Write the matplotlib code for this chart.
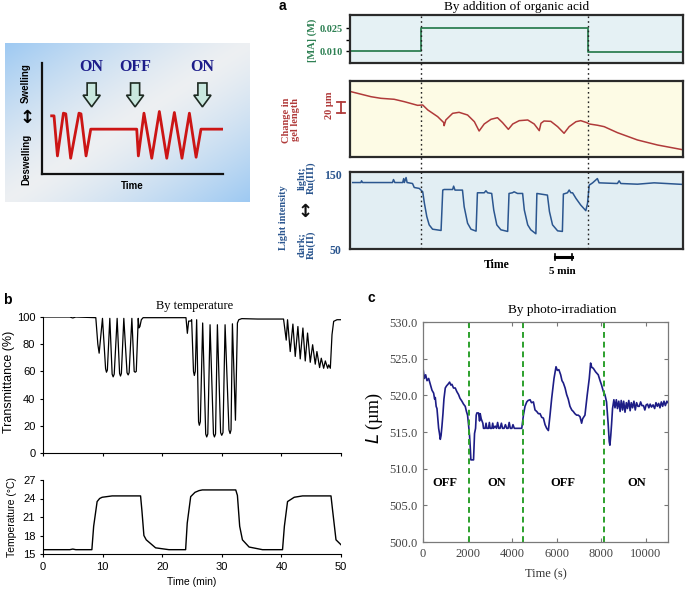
import numpy as np
import matplotlib
matplotlib.use("Agg")
import matplotlib.pyplot as plt
from matplotlib.patches import FancyArrow
import matplotlib.transforms as mtransforms

W, H = 685, 591
SERIF = "Liberation Serif"
SANS = "Liberation Sans"

# ---------------- data ----------------
# schematic (arbitrary units)
schem_t = [5.5, 6.8, 8.7, 12.0, 13.3, 16.0, 20.6, 21.7, 24.5, 27.1, 52.5, 53.4, 56.5,
           60.8, 65.0, 69.1, 73.3, 77.5, 81.6, 85.3, 88.0, 100]
schem_y = [52.4, 52.4, 16.3, 54.8, 54.2, 14.2, 54.8, 54.2, 16.3, 40.4, 40.4, 16.3, 54.8,
           14.2, 56.3, 14.2, 55.4, 14.2, 54.8, 15.1, 40.4, 40.4]
schem_switch_x = [27.6, 51.6, 88.8]
schem_switch_labels = ["ON", "OFF", "ON"]

# panel a (time in min)
acid_switch_t = [20.9, 70.1]
ma_t = [0, 20.9, 20.9, 70.1, 70.1, 98]
ma_c = [0.010, 0.010, 0.025, 0.025, 0.0095, 0.0095]

gel_t = [0.3, 6.2, 9.1, 13.0, 16.0, 19.9, 21.4, 22.9, 25.8, 27.6, 27.7, 28.2, 30.2, 32.1,
         34.6, 36.6, 38.0, 39.5, 41.5, 43.4, 44.9, 46.6, 47.9, 49.8, 52.3, 54.2, 55.7,
         56.2, 57.1, 59.1, 61.1, 63.0, 64.5, 66.5, 67.9, 69.7, 70.4, 72.9, 74.8, 78.7,
         84.6, 90.5, 98.3]
gel_um = [114.3, 105.5, 102.7, 101.0, 96.8, 90.4, 91.0, 82.3, 70.6, 60.1, 54.8, 64.8, 76.4,
          78.2, 73.5, 61.8, 45.5, 57.8, 66.0, 68.8, 60.1, 48.4, 57.8, 63.6, 64.8, 57.8,
          46.1, 59.0, 63.0, 62.4, 53.1, 41.5, 53.1, 61.8, 63.6, 60.1, 57.8, 55.5, 53.1,
          42.6, 29.8, 21.0, 12.3]

light_t = [0.8, 3.2, 3.4, 3.7, 12.5, 12.8, 13.2, 15.5, 15.8, 16.0, 16.5, 16.8, 18.4, 18.9,
           20.4, 21.4, 21.9, 22.6, 23.3, 24.3, 26.8, 27.3, 27.7, 30.2, 30.5, 30.9, 33.1,
           33.6, 34.6, 35.6, 37.1, 37.5, 39.5, 40.0, 40.5, 41.7, 42.3, 43.2, 44.4, 46.4,
           46.8, 47.8, 48.3, 49.3, 50.8, 51.3, 52.3, 53.2, 54.7, 55.0, 58.1, 58.7, 59.6,
           61.1, 62.5, 62.8, 64.0, 64.5, 65.0, 65.5, 66.5, 67.9, 69.4, 69.9, 70.4, 71.4,
           72.8, 73.3, 78.7, 79.2, 79.7, 84.6, 89.5, 98.3]
light_v = [138.9, 138.9, 141.2, 138.9, 138.9, 142.9, 138.9, 138.9, 144.2, 138.9, 145.6,
           138.9, 137.6, 132.3, 131.0, 126.5, 111.1, 93.4, 82.3, 76.5, 74.8, 128.8, 129.6,
           129.6, 134.1, 128.8, 128.8, 106.6, 84.5, 76.5, 73.9, 125.2, 125.2, 127.9, 125.2,
           124.3, 102.2, 82.3, 75.7, 73.5, 124.3, 125.2, 126.5, 124.3, 124.3, 102.2, 82.3,
           75.7, 70.4, 124.3, 122.1, 100.0, 82.3, 74.3, 73.5, 123.5, 125.2, 128.9, 125.2,
           125.2, 117.7, 108.8, 101.3, 111.1, 135.4, 138.5, 144.2, 138.5, 137.6, 141.2,
           137.6, 136.7, 138.5, 136.3]

# panel b
trans_t = [0, 4.5, 5.0, 5.5, 8.86, 9.2, 9.42, 9.98, 10.5, 10.65, 10.8, 11.21, 11.6, 11.77,
           11.95, 12.44, 12.85, 13.0, 13.15, 13.56, 14.1, 14.29, 14.45, 14.91, 15.3, 15.47,
           15.65, 15.98, 16.1, 16.26, 16.5, 16.8, 20.0, 23.99, 24.22, 24.44, 24.78, 24.94,
           25.25, 25.39, 25.55, 25.78, 26.1, 26.23, 26.4, 26.79, 27.3, 27.47, 27.65, 28.03,
           28.6, 28.76, 28.95, 29.26, 29.8, 29.99, 30.2, 30.55, 31.2, 31.39, 31.55, 31.78,
           32.29, 32.62, 32.85, 33.35, 36.0, 40.36, 40.81, 41.03, 41.48, 41.93, 42.32, 42.77,
           43.16, 43.61, 44.0, 44.39, 44.84, 45.24, 45.68, 45.96, 46.41, 46.69, 47.09, 47.37,
           47.76, 47.93, 48.21, 48.49, 48.77, 49.33, 50.0]
trans_v = [100, 100, 99.3, 100, 99.5, 80, 73.4, 99, 62, 59.4, 61, 99, 58, 56, 58, 99, 58.5,
           56.6, 58.5, 99, 59, 57.4, 59, 99, 60, 59.4, 60, 99, 92, 93, 98, 99.5, 99.5, 99.5,
           88, 97, 97, 98, 60, 57, 60, 98, 23, 20.4, 23, 95.6, 14, 11.8, 14, 94.3, 14, 11.8,
           14, 94.3, 15, 13, 15, 94.3, 17, 14.3, 17, 95, 24.1, 95.6, 98, 98.8, 98.5, 98.5,
           83, 98, 74.6, 94.8, 71, 93, 69.2, 91.9, 67.7, 88.2, 66.7, 79.6, 65.3, 74.6, 62.8,
           69.7, 62.3, 67.7, 62.3, 64.8, 62.3, 87, 96.8, 98, 98]

temp_t = [0, 4.5, 5.0, 5.5, 8.2, 8.5, 9.08, 9.5, 9.92, 11.6, 16.37, 16.6, 16.93, 17.32,
          18.89, 21.13, 23.93, 24.2, 24.78, 25.5, 26.18, 26.74, 32.34, 32.62, 33.0, 33.46,
          34.58, 36.83, 40.19, 40.5, 41.03, 42.15, 43.55, 48.32, 48.6, 49.16, 50.0]
temp_v = [15.7, 15.7, 15.8, 15.7, 15.7, 19.5, 23.5, 24.0, 24.2, 24.42, 24.42, 22.0, 18.0,
          17.3, 16.0, 15.7, 15.7, 20.0, 24.3, 25.0, 25.28, 25.39, 25.39, 24.5, 19.5, 17.3,
          16.13, 15.7, 15.7, 19.5, 23.5, 24.2, 24.42, 24.42, 22.0, 17.3, 16.5]

# panel c (time in s, L in um)
photo_switch_t = [2050, 4470, 8140]
photo_phase_t = [1000, 3300, 6300, 9600]
photo_phase_labels = ["OFF", "ON", "OFF", "ON"]
photo_t = [0, 60, 120, 180, 254, 330, 403, 478, 520, 552, 590, 627, 660, 702, 740, 776, 810,
           851, 896, 940, 1000, 1060, 1120, 1194, 1250, 1299, 1370, 1448, 1520, 1597, 1660,
           1747, 1820, 1896, 1950, 2000, 2045, 2090, 2120, 2150, 2269, 2314, 2360, 2389,
           2419, 2493, 2540, 2568, 2613, 2687, 2717, 2790, 2830, 2867, 2941, 2980, 3016,
           3090, 3130, 3165, 3240, 3300, 3350, 3400, 3460, 3520, 3570, 3640, 3700, 3760,
           3820, 3870, 3920, 3990, 4040, 4100, 4200, 4300, 4434, 4509, 4580, 4658, 4720,
           4807, 4870, 4957, 5030, 5106, 5180, 5255, 5330, 5405, 5480, 5554, 5629, 5703,
           5778, 5882, 5972, 6032, 6100, 6181, 6240, 6300, 6380, 6450, 6520, 6599, 6680,
           6748, 6820, 6897, 6970, 7047, 7122, 7166, 7271, 7375, 7465, 7525, 7580, 7644,
           7750, 7868, 7950, 8017, 8100, 8167, 8241, 8316, 8361, 8391, 8430, 8465, 8510,
           8570, 8620, 8680, 8730, 8790, 8850, 8900, 8960, 9010, 9070, 9130, 9180, 9240,
           9300, 9350, 9410, 9470, 9530, 9590, 9650, 9710, 9770, 9830, 9900, 9960, 10020,
           10080, 10140, 10200, 10260, 10330, 10400, 10460, 10520, 10580, 10640, 10700,
           10760, 10820, 10880, 10950, 11000]
photo_L = [523.7, 522.3, 522.8, 522.0, 522.3, 521.5, 520.7, 520.3, 519.5, 519.7, 518.5,
           518.2, 517.0, 515.5, 514.8, 514.0, 514.5, 515.8, 517.5, 519.5, 521.0, 521.3,
           521.5, 521.8, 521.4, 521.5, 521.0, 521.0, 520.5, 520.1, 519.6, 519.2, 518.8,
           518.5, 517.8, 517.3, 516.0, 514.5, 513.0, 511.2, 511.2, 514.8, 515.5, 517.3,
           517.6, 517.6, 516.5, 517.5, 516.8, 516.2, 515.5, 515.5, 516.2, 515.5, 515.5,
           516.3, 515.5, 515.5, 516.2, 515.5, 515.8, 515.5, 516.3, 515.5, 515.5, 516.2,
           515.5, 515.5, 516.0, 515.5, 515.5, 516.3, 515.5, 515.5, 516.0, 515.5, 515.5,
           515.5, 515.5, 517.3, 518.5, 519.1, 519.3, 519.4, 519.0, 519.1, 518.0, 517.8,
           517.5, 517.5, 517.0, 516.9, 516.0, 515.5, 515.2, 517.3, 519.6, 522.3, 523.9,
           523.4, 523.5, 522.8, 522.0, 521.7, 521.0, 520.1, 519.5, 518.5, 518.0, 517.8,
           517.5, 517.3, 517.3, 517.1, 516.2, 516.8, 517.3, 520.1, 522.3, 524.4, 523.8,
           523.7, 523.2, 522.8, 522.0, 521.4, 520.5, 520.1, 519.1, 516.0, 513.7, 513.2,
           514.5, 516.0, 518.2, 519.4, 518.3, 519.4, 518.2, 519.2, 517.8, 519.3, 518.0,
           519.2, 517.7, 519.0, 518.2, 519.3, 517.9, 519.0, 518.3, 519.2, 518.0, 519.0,
           518.5, 518.5, 519.1, 518.6, 518.6, 518.0, 518.7, 518.8, 518.3, 518.8, 518.4,
           518.7, 518.2, 519.0, 518.5, 518.9, 518.3, 519.1, 518.5, 519.2, 518.6, 519.2,
           519.0]

# ---------------- figure ----------------
fig = plt.figure(figsize=(W / 100, H / 100), dpi=100)
fig.patch.set_facecolor("white")


def px_axes(x0, y0, x1, y1, **kw):
    return fig.add_axes([x0 / W, 1 - y1 / H, (x1 - x0) / W, (y1 - y0) / H], **kw)


def ftext(x, y, s, **kw):
    return fig.text(x / W, 1 - y / H, s, **kw)


# ---------- schematic ----------
bg = px_axes(5, 43, 250, 202)
u = np.linspace(0, 1, 200)[None, :]
v = np.linspace(0, 1, 130)[:, None]
d = np.abs(u + v - 1.0) ** 1.3
c_pale = np.array([0.93, 0.94, 0.95])
c_blue = np.array([0.62, 0.79, 0.95])
img = c_pale[None, None, :] * (1 - d[..., None]) + c_blue[None, None, :] * d[..., None]
bg.imshow(img, extent=[0, 1, 0, 1], aspect="auto", interpolation="bilinear")
bg.set_axis_off()

sch = px_axes(41.7, 63, 222.7, 174)
sch.set_facecolor("none")
sch.set_xlim(0, 100)
sch.set_ylim(0, 100)
for s in ["top", "right"]:
    sch.spines[s].set_visible(False)
for s in ["left", "bottom"]:
    sch.spines[s].set_linewidth(1.6)
    sch.spines[s].set_color("#111111")
sch.set_xticks([])
sch.set_yticks([])
sch.plot(schem_t, schem_y, color="#cc1515", lw=2.0, solid_joinstyle="round")
for x, lab in zip(schem_switch_x, schem_switch_labels):
    sch.add_patch(FancyArrow(x, 82, 0, -21.5, width=5.0, head_width=9.5,
                             head_length=10.5, length_includes_head=True,
                             fc="#c9e8df", ec="#1e2a22", lw=1.2, clip_on=False))
    sch.text(x, 96, lab, ha="center", va="center", fontsize=11.5, fontweight="bold",
             family=SERIF, color="#1c1c8a", clip_on=False)
ftext(132, 186, "Time", ha="center", va="center", fontsize=7, fontweight="bold", family=SANS)
ftext(26, 83, "Swelling", rotation=90, ha="center", va="center", fontsize=7,
      fontweight="bold", family=SANS)
ftext(26, 159, "Deswelling", rotation=90, ha="center", va="center", fontsize=7,
      fontweight="bold", family=SANS)
ftext(27, 118, "\u2195", ha="center", va="center", fontsize=13, fontweight="bold",
      family="DejaVu Sans")

# ---------- panel a ----------
AX0, AX1 = 350, 683
green, red, blue = "#2e8053", "#b03a3a", "#2b568f"
ax_ma = px_axes(AX0, 15, AX1, 63)
ax_gel = px_axes(AX0, 81, AX1, 157)
ax_li = px_axes(AX0, 172, AX1, 249)
for ax, fc in [(ax_ma, "#e5f1f4"), (ax_gel, "#fdfbe5"), (ax_li, "#e2eef3")]:
    ax.set_facecolor(fc)
    ax.set_xlim(0, 98)
    ax.set_xticks([])
    for s in ax.spines.values():
        s.set_linewidth(1.6)
        s.set_color("#2a2a2a")

ax_ma.plot(ma_t, ma_c, color=green, lw=1.3)
ax_ma.set_ylim(0.0022, 0.0335)
ax_ma.set_yticks([0.010, 0.0175, 0.025])
ax_ma.set_yticklabels(["0.010", "", "0.025"])
ax_ma.tick_params(axis="y", direction="out", length=3, width=1, pad=2, labelsize=7.5,
                  labelcolor=green)
for t in ax_ma.get_yticklabels():
    t.set_fontfamily(SERIF)
    t.set_fontweight("bold")
ftext(312, 40, "[MA] (M)", rotation=90, ha="center", va="center", fontsize=7.5,
      fontweight="bold", family=SERIF, color=green)

ax_gel.plot(gel_t, gel_um, color=red, lw=1.1)
ax_gel.set_ylim(0, 133)
ax_gel.set_yticks([])
trans_g = mtransforms.blended_transform_factory(ax_gel.transAxes, ax_gel.transData)
bar_x = -0.028
ax_gel.plot([bar_x, bar_x], [76.4, 96.8], color=red, lw=1.3, transform=trans_g, clip_on=False)
ax_gel.plot([bar_x - 0.012, bar_x + 0.012], [76.4, 76.4], color=red, lw=1.3,
            transform=trans_g, clip_on=False)
ax_gel.plot([bar_x - 0.012, bar_x + 0.012], [96.8, 96.8], color=red, lw=1.3,
            transform=trans_g, clip_on=False)
ftext(330, 105, "20 \u00b5m", rotation=90, ha="center", va="center", fontsize=7.5,
      fontweight="bold", family=SERIF, color=red)
ftext(291, 120, "Change in\ngel length", rotation=90, ha="center", va="center",
      fontsize=7.5, fontweight="bold", family=SERIF, color=red, linespacing=1.1)

ax_li.plot(light_t, light_v, color=blue, lw=1.1)
ax_li.set_ylim(50, 153)
ax_li.set_yticks([50, 150])
ax_li.tick_params(axis="y", length=0, pad=6, labelsize=8.5, labelcolor=blue)
for t in ax_li.get_yticklabels():
    t.set_fontfamily(SERIF)
    t.set_fontweight("bold")
ftext(284, 218, "Light intensity", rotation=90, ha="center", va="center", fontsize=7.5,
      fontweight="bold", family=SERIF, color=blue)
ftext(307, 178, "light;\nRu(III)", rotation=90, ha="center", va="center", fontsize=7.5,
      fontweight="bold", family=SERIF, color=blue, linespacing=1.0)
ftext(307, 245, "dark;\nRu(II)", rotation=90, ha="center", va="center", fontsize=7.5,
      fontweight="bold", family=SERIF, color=blue, linespacing=1.0)
ftext(305, 212, "\u2195", ha="center", va="center", fontsize=13, fontweight="bold",
      family="DejaVu Sans", color="#111111")

# dotted switch lines through all three panels
span = (249 - 15) / (249 - 172)
for t in acid_switch_t:
    ax_li.axvline(t, ymin=0, ymax=span, color="#222222", ls=(0, (1.2, 2.2)), lw=1.0,
                  clip_on=False, zorder=5)

# time scale bar (5 min)
trans_l = mtransforms.blended_transform_factory(ax_li.transData, ax_li.transAxes)
sb0, sb1, sby = 60.3, 65.3, -0.104
ax_li.plot([sb0, sb1], [sby, sby], color="black", lw=2.2, transform=trans_l, clip_on=False)
ax_li.plot([sb0, sb0], [sby - 0.04, sby + 0.04], color="black", lw=1.2, transform=trans_l,
           clip_on=False)
ax_li.plot([sb1, sb1], [sby - 0.04, sby + 0.04], color="black", lw=1.2, transform=trans_l,
           clip_on=False)
ftext(497, 265, "Time", ha="center", va="center", fontsize=8.5, fontweight="bold",
      family=SERIF)
ftext(562, 272, "5 min", ha="center", va="center", fontsize=8, fontweight="bold",
      family=SERIF)

ftext(282, 6, "a", ha="center", va="center", fontsize=10, fontweight="bold", family=SANS)
ftext(517, 7, "By addition of organic acid", ha="center", va="center", fontsize=9.5,
      family=SERIF)

# ---------- panel b ----------
ax_tr = px_axes(43, 317, 341, 453)
ax_tr.plot(trans_t, trans_v, color="black", lw=0.9)
ax_tr.set_xlim(0, 50)
ax_tr.set_ylim(0, 100)
ax_tr.set_xticks([0, 10, 20, 30, 40, 50])
ax_tr.set_xticklabels([])
ax_tr.set_yticks([0, 20, 40, 60, 80, 100])
ftext(9, 382, "Transmittance (%)", rotation=90, ha="center", va="center", family=SANS,
      fontsize=9)

ax_tp = px_axes(43, 480, 341, 554)
ax_tp.plot(temp_t, temp_v, color="black", lw=1.0)
ax_tp.set_xlim(0, 50)
ax_tp.set_ylim(15, 27)
ax_tp.set_xticks([0, 10, 20, 30, 40, 50])
ax_tp.set_yticks([15, 18, 21, 24, 27])
ax_tp.set_xlabel("Time (min)", family=SANS, fontsize=7.5, labelpad=4)
ftext(12, 517, "Temperature (\u00b0C)", rotation=90, ha="center", va="center", family=SANS,
      fontsize=7.5)
for ax in (ax_tr, ax_tp):
    for s in ["top", "right"]:
        ax.spines[s].set_visible(False)
    for s in ["left", "bottom"]:
        ax.spines[s].set_linewidth(0.8)
    ax.tick_params(direction="out", length=2.5, width=0.8, labelsize=8, pad=3)
    for t in ax.get_xticklabels() + ax.get_yticklabels():
        t.set_fontfamily(SANS)
ftext(7, 300, "b", ha="center", va="center", fontsize=10, fontweight="bold", family=SANS)
ftext(195, 306, "By temperature", ha="center", va="center", fontsize=9, family=SERIF)

# ---------- panel c ----------
ax_c = px_axes(423, 322, 668, 542)
ax_c.plot(photo_t, photo_L, color="#1d1d86", lw=1.2)
for t in photo_switch_t:
    ax_c.axvline(t, color="#2ca02c", ls=(0, (3, 2)), lw=1.4)
for t, lab in zip(photo_phase_t, photo_phase_labels):
    ax_c.text(t, 508, lab, ha="center", va="center", fontsize=9, fontweight="bold",
              family=SERIF)
ax_c.set_xlim(0, 11000)
ax_c.set_ylim(500, 530)
ax_c.set_xticks([0, 2000, 4000, 6000, 8000, 10000])
ax_c.set_yticks([500, 505, 510, 515, 520, 525, 530])
ax_c.set_yticklabels(["%.1f" % v for v in [500, 505, 510, 515, 520, 525, 530]])
ax_c.tick_params(direction="in", length=3, width=0.8, top=True, right=True,
                 labelsize=9, colors="#777777", labelcolor="#444444", pad=4)
for t in ax_c.get_xticklabels() + ax_c.get_yticklabels():
    t.set_fontfamily(SERIF)
for s in ax_c.spines.values():
    s.set_color("#7a7a7a")
    s.set_linewidth(0.9)
ax_c.set_xlabel("Time (s)", family=SERIF, fontsize=9, labelpad=6, color="#333333")
ftext(374, 418, "$L$ (\u00b5m)", rotation=90, ha="center", va="center", fontsize=13,
      family=SERIF)
ftext(371, 298, "c", ha="center", va="center", fontsize=10, fontweight="bold", family=SANS)
ftext(562, 310, "By photo-irradiation", ha="center", va="center", fontsize=9.5, family=SERIF)

fig.savefig("out.png", dpi=100, facecolor="white")
